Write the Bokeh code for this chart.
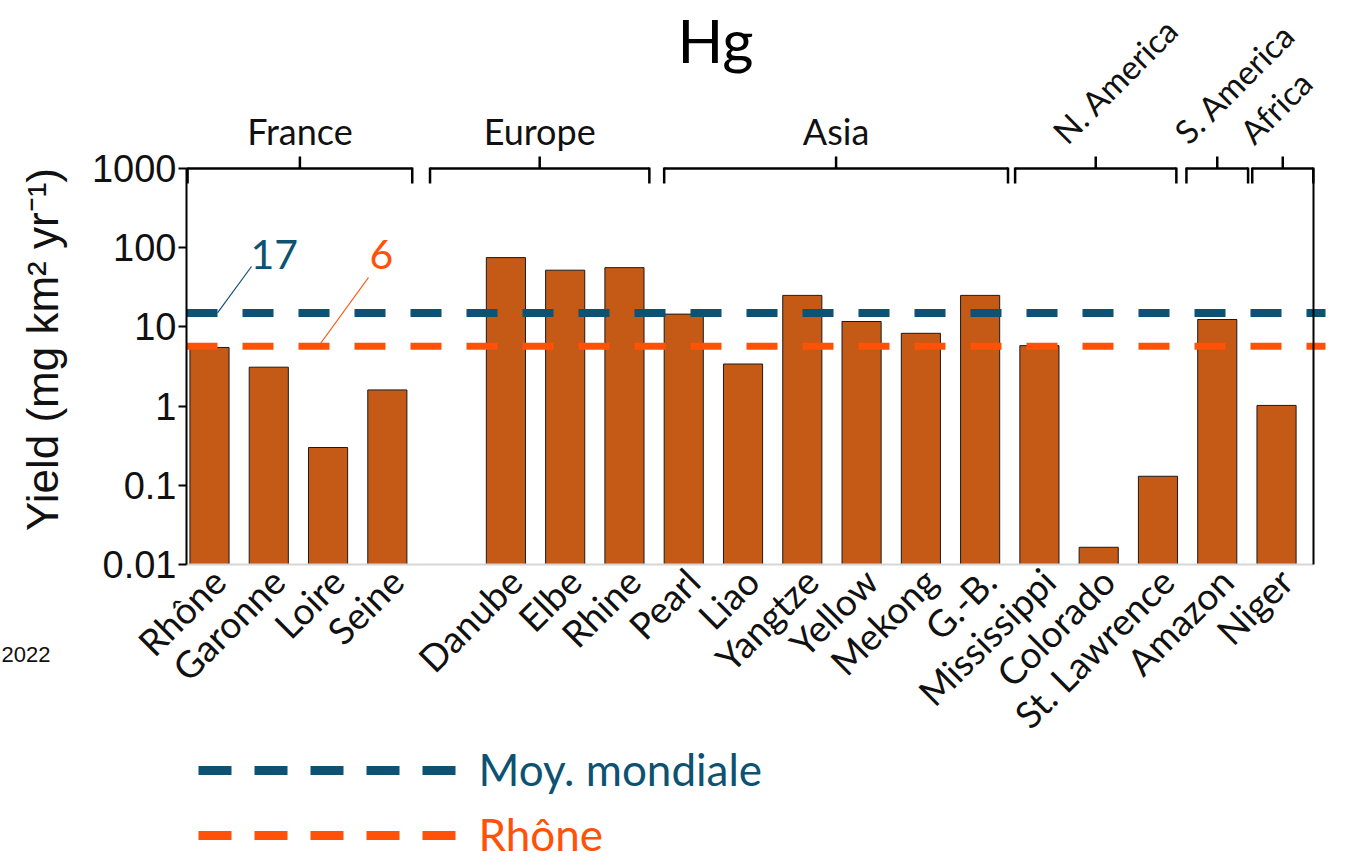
import math
from bokeh.plotting import figure
from bokeh.models import (Range1d, FixedTicker, CustomJSTickFormatter, Label,
                          LogAxis, ColumnDataSource)
from bokeh.embed import file_html
from bokeh.resources import INLINE

# ---------------- data ----------------
rivers = ["Rhône", "Garonne", "Loire", "Seine", "Danube", "Elbe", "Rhine", "Pearl",
          "Liao", "Yangtze", "Yellow", "Mekong", "G.-B.", "Mississippi", "Colorado",
          "St. Lawrence", "Amazon", "Niger"]
yields = [5.5, 3.1, 0.30, 1.6, 75, 52, 56, 14.5, 3.4, 25, 11.7, 8.3, 25, 5.8,
          0.0165, 0.13, 12.4, 1.02]
groups = ["France", "Europe", "Asia", "N. America", "S. America", "Africa"]
group_sizes = [4, 3, 6, 3, 1, 1]
world_mean_value = 15.0
world_mean_text = "17"
rhone_value = 5.7
rhone_text = "6"
y_ticks = [0.01, 0.1, 1, 10, 100, 1000]
legend_names = ["Moy. mondiale", "Rhône"]

# ---------------- style / layout ----------------
BAR = "#C55A17"
TEAL = "#0D5272"
ORANGE = "#FF5208"
TXT = "#111111"
SANS = "Lato"
ARIAL = "Liberation Sans"

# positions: France, then an empty slot, then the other rivers
positions = [i if i < 4 else i + 1 for i in range(len(rivers))]

W, H = 1340, 860          # canvas == frame (axes are pinned inside it)
SLOT = 59.28              # px per category slot
PX0 = 209                 # px of the first category
DEC = 79.2                # px per decade
PY_TOP = 168              # px of y = 1000
Y0, Y1 = 0.01, 1000.0
BASE_FIX = 0.4            # alphabetic baseline correction (fraction of font size)

X_START = (0 - PX0) / SLOT
X_END = (W - PX0) / SLOT
LOG_TOP = math.log10(Y1) + PY_TOP / DEC
LOG_BOT = LOG_TOP - H / DEC


def dx(px):
    return (px - PX0) / SLOT


def dy(py):
    return 10 ** (LOG_TOP - py / DEC)


X_LEFT = dx(186)
X_RIGHT = dx(1313)

p = figure(frame_width=W, frame_height=H, min_border=0,
           x_range=Range1d(X_START, X_END), y_range=Range1d(10 ** LOG_BOT, 10 ** LOG_TOP),
           y_axis_type="log", output_backend="svg", toolbar_location=None, title=None)
p.background_fill_color = "white"
p.border_fill_color = "white"
p.outline_line_color = None
p.xgrid.grid_line_color = None
p.ygrid.grid_line_color = None


def text(px, py, s, size, color=TXT, font=SANS, align="left", angle=0.0):
    """Label whose alphabetic baseline starts at page pixel (px, py)."""
    off = BASE_FIX * size
    px_a = px - off * math.sin(angle)
    py_a = py - off * math.cos(angle)
    p.add_layout(Label(x=dx(px_a), y=dy(py_a), text=s, text_font=font,
                       text_font_size=f"{size}px", text_color=color,
                       text_align=align, text_baseline="alphabetic", angle=angle))


src = ColumnDataSource(dict(x=positions, top=yields, name=rivers))
p.vbar(x="x", top="top", bottom=Y0, width=0.66, source=src,
       fill_color=BAR, line_color="#1a1a1a", line_width=1)

# y axis (pinned at the left edge of the plotting area)
ya = p.yaxis[0]
ya.fixed_location = X_LEFT
ya.bounds = (Y0, Y1)
ya.ticker = FixedTicker(ticks=y_ticks)
ya.formatter = CustomJSTickFormatter(code="return tick.toString();")
ya.major_label_text_font = ARIAL
ya.major_label_text_font_size = "38px"
ya.major_label_text_color = TXT
ya.major_label_standoff = 2
ya.axis_line_width = 2
ya.axis_line_color = "black"
ya.major_tick_line_width = 2
ya.major_tick_out = 8
ya.major_tick_in = 0
ya.minor_tick_line_color = None

# y-axis title, drawn as rotated text so it sits where the reference has it
p.add_layout(Label(x=dx(42), y=dy(349), text="Yield (mg km² yr⁻¹)", text_font=ARIAL,
                   text_font_size="44px", text_color=TXT, text_align="center",
                   text_baseline="middle", angle=math.pi / 2))

# x axis (pinned at y = 0.01)
xa = p.xaxis[0]
xa.fixed_location = Y0
xa.bounds = (X_LEFT, X_RIGHT)
xa.ticker = FixedTicker(ticks=[q + 0.15 for q in positions])
xa.formatter = CustomJSTickFormatter(
    args=dict(pos=positions, names=rivers),
    code="const i = pos.indexOf(Math.round(tick)); return i >= 0 ? names[i] : '';")
xa.major_label_orientation = math.pi / 4
xa.major_label_text_font = SANS
xa.major_label_text_font_size = "37px"
xa.major_label_text_color = TXT
xa.major_label_standoff = 4
xa.axis_line_color = "#d6d6d6"
xa.axis_line_width = 2
xa.major_tick_line_color = None
xa.minor_tick_line_color = None

# right spine
right = LogAxis(ticker=FixedTicker(ticks=[]), major_label_text_font_size="0px",
                axis_line_width=2, axis_line_color="black", fixed_location=X_RIGHT,
                bounds=(Y0, Y1), major_tick_line_color=None, minor_tick_line_color=None)
p.add_layout(right, "right")

# reference lines
x_line_end = dx(1325)
p.segment(x0=[X_LEFT], y0=[world_mean_value], x1=[x_line_end], y1=[world_mean_value],
          line_color=TEAL, line_width=8, line_dash="31 25")
p.segment(x0=[X_LEFT], y0=[rhone_value], x1=[x_line_end], y1=[rhone_value],
          line_color=ORANGE, line_width=7, line_dash="31 25")

# value call-outs
p.segment(x0=[dx(217)], y0=[world_mean_value], x1=[dx(251)], y1=[dy(266)],
          line_color=TEAL, line_width=1.2)
p.segment(x0=[dx(318)], y0=[rhone_value], x1=[dx(368)], y1=[dy(277)],
          line_color=ORANGE, line_width=1.2)
text(250, 270, world_mean_text, 41, color=TEAL)
text(369, 270, rhone_text, 41, color=ORANGE)

# group brackets along the top
bracket_edges = [(-0.37, 3.42), (3.72, 7.42), (7.67, 13.47), (13.59, 16.31),
                 (16.48, 17.52), (17.59, 18.62)]
bx0, by0, bx1, by1 = [], [], [], []
for a, b in bracket_edges:
    c = (a + b) / 2
    for s in [(a, 168, b, 168), (a, 167, a, 183), (b, 167, b, 183), (c, 168, c, 156)]:
        bx0.append(s[0]); by0.append(dy(s[1])); bx1.append(s[2]); by1.append(dy(s[3]))
p.segment(x0=bx0, y0=by0, x1=bx1, y1=by1, line_color="black", line_width=2.5)

for gi, (name, (a, b)) in enumerate(zip(groups, bracket_edges)):
    c_px = PX0 + (a + b) / 2 * SLOT
    if gi < 3:
        text(c_px, 145, name, 36, align="center")
    else:
        text(c_px - 28, 146, name, 33, angle=math.pi / 4)

# title
text(715, 63, "Hg", 60, color="black", align="center")

# year fragment at the left
text(1, 663, "2022", 22, font=ARIAL)

# legend
for name, color, py in zip(legend_names, [TEAL, ORANGE], [770, 835]):
    p.segment(x0=[dx(198)], y0=[dy(py)], x1=[dx(455)], y1=[dy(py)],
              line_color=color, line_width=9, line_dash="33 23")
    p.add_layout(Label(x=dx(478), y=dy(py - 2), text=name, text_font=SANS,
                       text_font_size="44px", text_color=color,
                       text_baseline="middle"))

open("out.html", "w").write(file_html(p, INLINE))
